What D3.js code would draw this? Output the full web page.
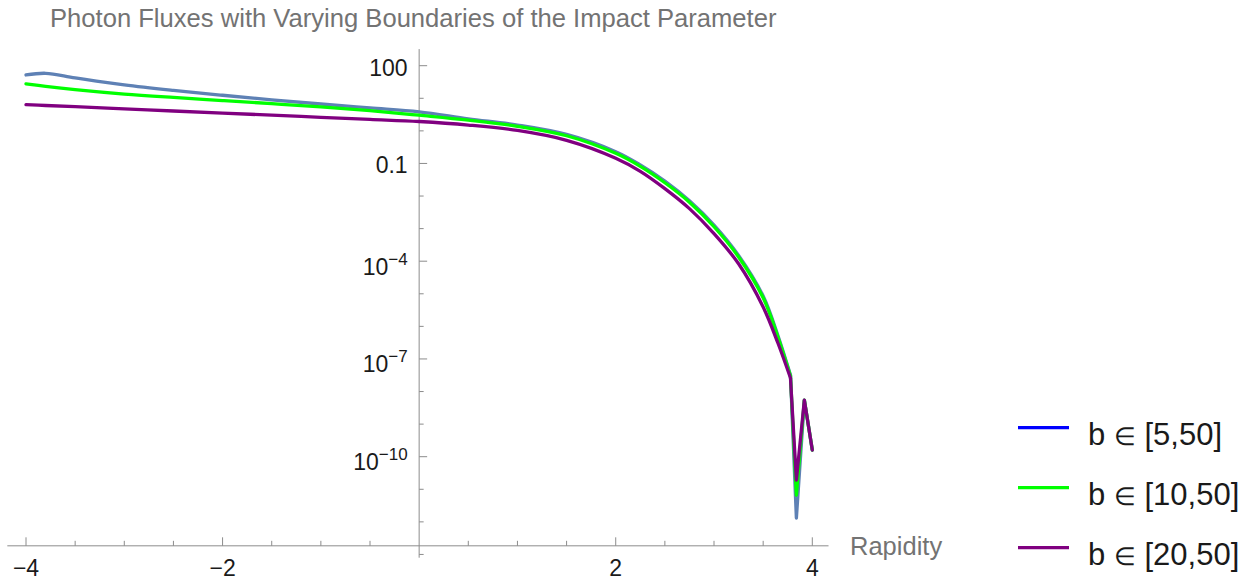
<!DOCTYPE html>
<html>
<head>
<meta charset="utf-8">
<script src="https://cdn.jsdelivr.net/npm/d3@7"></script>
<style>
  html, body { margin: 0; padding: 0; background: #fff; }
  svg { display: block; font-family: "Liberation Sans", Arial, sans-serif; }
</style>
</head>
<body>
<svg id="chart" width="1252" height="583"></svg>
<script>
// ---- data ----
const rapidity = [-4, -3.8, -3.5, -3, -2.5, -2, -1.5, -1, -0.5, 0, 0.5, 1, 1.5, 2, 2.25, 2.5, 2.75, 3, 3.25, 3.5, 3.65, 3.778, 3.838, 3.919, 4.0];
const flux5_50  = [51.9, 58.5, 42.6, 25.9, 17.5, 12.4, 8.99, 6.67, 5.06, 3.84, 2.34, 1.51, 0.776, 0.229, 0.0902, 0.0289, 7.18e-3, 1.29e-3, 1.51e-4, 8.53e-6, 5.24e-7, 3.21e-8, 1.31e-12, 5.48e-9, 1.60e-10];
const flux10_50 = [27.8, 23.3, 18.5, 13.5, 10.6, 8.53, 6.85, 5.44, 4.17, 3.02, 2.14, 1.38, 0.708, 0.204, 0.0813, 0.0255, 6.46e-3, 1.14e-3, 1.35e-4, 7.52e-6, 4.71e-7, 2.99e-8, 6.65e-12, 5.48e-9, 1.60e-10];
const flux20_50 = [6.40, 6.01, 5.52, 4.75, 4.07, 3.51, 3.03, 2.61, 2.25, 1.94, 1.51, 1.03, 0.513, 0.145, 0.0575, 0.0169, 4.11e-3, 7.03e-4, 8.32e-5, 3.93e-6, 3.08e-7, 2.59e-8, 1.92e-11, 5.48e-9, 1.60e-10];
const seriesLabels = [["b ", "\u2208", " [5,50]"], ["b ", "\u2208", " [10,50]"], ["b ", "\u2208", " [20,50]"]];
const xMajorTicks = [-4, -2, 2, 4];
const xMinorTicks = [-3.5, -3, -2.5, -1.5, -1, -0.5, 0.5, 1, 1.5, 2.5, 3, 3.5];
const yMajorTicks = [1e2, 1e-1, 1e-4, 1e-7, 1e-10];
const yMajorLabels = [["100", ""], ["0.1", ""], ["10", "\u22124"], ["10", "\u22127"], ["10", "\u221210"]];
const yMinorTicks = [1e1, 1e0, 1e-2, 1e-3, 1e-5, 1e-6, 1e-8, 1e-9, 1e-11, 1e-12, 1e-13];
const titleText = "Photon Fluxes with Varying Boundaries of the Impact Parameter";
const xAxisLabel = "Rapidity";

// ---- layout / style ----
const lineColors = ["#5e81b5", "#00ff00", "#800080"];
const legendColors = ["#0000ff", "#00ff00", "#800080"];
const axisColor = "#8c8c8c";
const smoothEnd = 21; // last index of the smooth part (kink)

const svg = d3.select("#chart");
const x = d3.scaleLinear().domain([-4, 4]).range([26, 812.3]);
const y = d3.scaleLog().domain([1e2, 1e-10]).range([65.7, 456.7]);

const xAxisExtent = [-4.19, 4.165];
const yAxisExtent = [Math.pow(10, 2.51), Math.pow(10, -13.1)];
const xAxisAt = Math.pow(10, -12.735);

// axes
const ax = svg.append("g").attr("stroke", axisColor).attr("stroke-width", 1).attr("fill", "none");
ax.append("line")
  .attr("x1", x(xAxisExtent[0])).attr("x2", x(xAxisExtent[1]))
  .attr("y1", y(xAxisAt)).attr("y2", y(xAxisAt));
ax.append("line")
  .attr("x1", x(0)).attr("x2", x(0))
  .attr("y1", y(yAxisExtent[0])).attr("y2", y(yAxisExtent[1]));

xMajorTicks.forEach(t => ax.append("line")
  .attr("x1", x(t)).attr("x2", x(t)).attr("y1", y(xAxisAt)).attr("y2", y(xAxisAt) - 8.5));
xMinorTicks.forEach(t => ax.append("line")
  .attr("x1", x(t)).attr("x2", x(t)).attr("y1", y(xAxisAt)).attr("y2", y(xAxisAt) - 5));
yMajorTicks.forEach(t => ax.append("line")
  .attr("x1", x(0)).attr("x2", x(0) + 8).attr("y1", y(t)).attr("y2", y(t)));
yMinorTicks.forEach(t => ax.append("line")
  .attr("x1", x(0)).attr("x2", x(0) + 4.5).attr("y1", y(t)).attr("y2", y(t)));

// tick labels
const lab = svg.append("g").attr("fill", "#1a1a1a").attr("font-size", 23);
xMajorTicks.forEach(t => lab.append("text")
  .attr("x", x(t)).attr("y", 576).attr("text-anchor", "middle")
  .text(t < 0 ? "\u2212" + Math.abs(t) : String(t)));
yMajorTicks.forEach((t, i) => {
  const [base, sup] = yMajorLabels[i];
  const tx = lab.append("text").attr("x", x(0) - 11.5).attr("text-anchor", "end");
  if (sup) {
    tx.attr("y", y(t) + 13.3);
    tx.append("tspan").text(base);
    tx.append("tspan").attr("font-size", 17).attr("dy", -10).text(sup);
  } else {
    tx.attr("y", y(t) + 10).text(base);
  }
});

// title & axis label
svg.append("text").attr("x", 50).attr("y", 27).attr("fill", "#737373")
  .attr("font-size", 25.6).text(titleText);
svg.append("text").attr("x", 850).attr("y", 555).attr("fill", "#737373")
  .attr("font-size", 25.5).text(xAxisLabel);

// curves
const allSeries = [flux5_50, flux10_50, flux20_50];
const smoothLine = d3.line().x(d => x(d[0])).y(d => y(d[1])).curve(d3.curveCatmullRom.alpha(0.5));
const straightLine = d3.line().x(d => x(d[0])).y(d => y(d[1]));
const curves = svg.append("g").attr("fill", "none").attr("stroke-width", 3.3)
  .attr("stroke-linejoin", "round").attr("stroke-linecap", "round");
allSeries.forEach((vals, si) => {
  const pts = rapidity.map((r, i) => [r, vals[i]]);
  const g = curves.append("g").attr("stroke", lineColors[si]);
  g.append("path").attr("d", smoothLine(pts.slice(0, smoothEnd + 1)));
  g.append("path").attr("d", straightLine(pts.slice(smoothEnd)));
});

// legend
const legendY = [427.7, 487.7, 547.7];
const leg = svg.append("g");
seriesLabels.forEach((parts, i) => {
  leg.append("line").attr("x1", 1018).attr("x2", 1069)
    .attr("y1", legendY[i]).attr("y2", legendY[i])
    .attr("stroke", legendColors[i]).attr("stroke-width", 3.3);
  const t = leg.append("text").attr("x", 1088).attr("y", legendY[i] + 17.5)
    .attr("font-size", 31).attr("fill", "#1a1a1a");
  t.append("tspan").text(parts[0]);
  t.append("tspan").attr("font-size", 25).text(parts[1]);
  t.append("tspan").text(parts[2]);
});
</script>
</body>
</html>
